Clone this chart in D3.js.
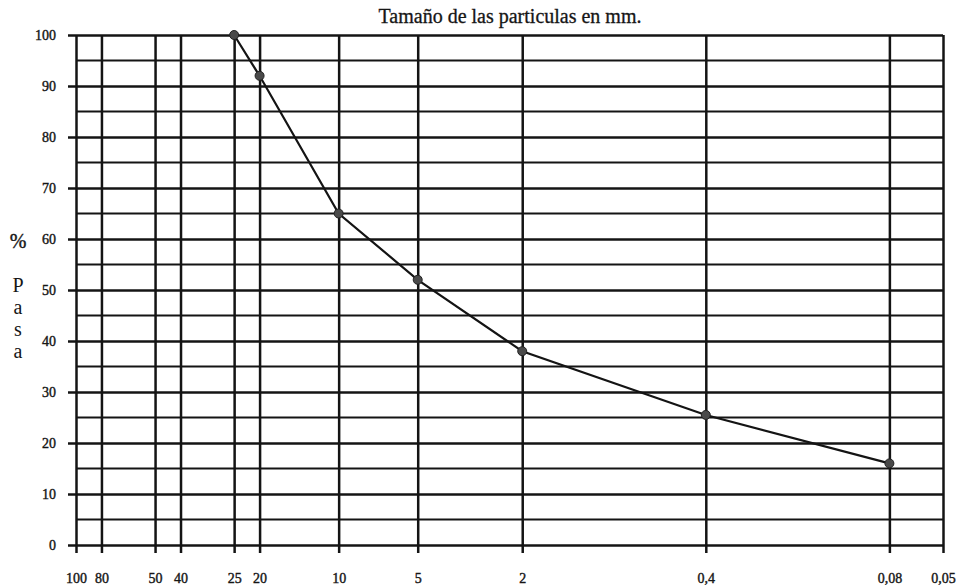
<!DOCTYPE html>
<html>
<head>
<meta charset="utf-8">
<script src="https://cdn.jsdelivr.net/npm/d3@7"></script>
<style>
  body { margin: 0; background: #fff; }
  text { font-family: "Liberation Serif", "Times New Roman", serif; fill: #161616; }
  .grid line { stroke: #141414; }
</style>
</head>
<body>
<div id="chart"></div>
<script>
// sieve sizes (mm) and % passing
let sizes = [25, 20, 10, 5, 2, 0.4, 0.08];
let pasa = [100, 92, 65, 52, 38, 25.5, 16];

// x ticks (sieve openings) and their labels
let sieveTicks = [100, 80, 50, 40, 25, 20, 10, 5, 2, 0.4, 0.08, 0.05];
let sieveLabels = ["100", "80", "50", "40", "25", "20", "10", "5", "2", "0,4", "0,08", "0,05"];

// y ticks
let yTicks = [0, 10, 20, 30, 40, 50, 60, 70, 80, 90, 100];
let yMinor = [5, 15, 25, 35, 45, 55, 65, 75, 85, 95];

const W = 963, H = 587;
const plot = {left: 76, right: 943, top: 35, bottom: 545};

let svg = d3.select("#chart")
            .append("svg")
                .attr("width", W)
                .attr("height", H);

let x = d3.scaleLog()
    .domain([100, 0.05])
    .range([plot.left, plot.right]);

let y = d3.scaleLinear()
    .domain([0, 100])
    .range([plot.bottom, plot.top]);

// minor horizontal lines
svg.append("g")
    .attr("class", "grid")
    .selectAll("line")
    .data(yMinor)
    .enter()
    .append("line")
        .attr("x1", plot.left)
        .attr("x2", plot.right)
        .attr("y1", d => y(d))
        .attr("y2", d => y(d))
        .style("stroke-width", 1.8);

// Y axis with major lines
let yAxis = svg.append("g")
    .attr("class", "grid")
    .attr("transform", "translate(" + (plot.left - 8) + ",0)")
    .call(d3.axisLeft(y)
            .tickValues(yTicks)
            .tickSizeInner(-(plot.right - plot.left + 8))
            .tickSizeOuter(0)
            .tickPadding(12));
yAxis.select(".domain").remove();
yAxis.selectAll("line").style("stroke-width", 2.5);
yAxis.selectAll("text")
    .style("font-size", "14px")
    .style("font-family", "Liberation Serif")
    .style("fill", "#161616")
    .style("stroke", "#161616")
    .style("stroke-width", 0.4);

// X axis with vertical lines (extend below the 0 line)
let xAxis = svg.append("g")
    .attr("class", "grid")
    .attr("transform", "translate(0," + (plot.bottom + 8) + ")")
    .call(d3.axisBottom(x)
            .tickValues(sieveTicks)
            .tickFormat((d, i) => sieveLabels[i])
            .tickSizeInner(-(plot.bottom + 8 - plot.top))
            .tickSizeOuter(0)
            .tickPadding(20));
xAxis.select(".domain").remove();
xAxis.selectAll("line").style("stroke-width", 2.5);
xAxis.selectAll("text")
    .style("font-size", "14px")
    .style("font-family", "Liberation Serif")
    .style("fill", "#161616")
    .style("stroke", "#161616")
    .style("stroke-width", 0.4);

// grading curve
let points = sizes.map((s, i) => ({ size: s, p: pasa[i] }));

svg.append("path")
    .datum(points)
    .attr("fill", "none")
    .attr("stroke", "#141414")
    .attr("stroke-width", 2.2)
    .attr("d", d3.line()
        .x(d => x(d.size))
        .y(d => y(d.p)));

svg.selectAll(".pt")
    .data(points)
    .enter()
    .append("circle")
        .attr("class", "pt")
        .attr("cx", d => x(d.size))
        .attr("cy", d => y(d.p))
        .attr("r", 4.5)
        .style("fill", "#4a4a4a")
        .style("stroke", "#222")
        .style("stroke-width", 1);

// title
svg.append("text")
    .attr("x", 510)
    .attr("y", 23)
    .attr("text-anchor", "middle")
    .style("font-size", "20px")
    .style("stroke", "#161616")
    .style("stroke-width", 0.3)
    .text("Tamaño de las particulas en mm.");

// Y label: "%" then "pasa" stacked
svg.append("text")
    .attr("x", 18)
    .attr("y", 248)
    .attr("text-anchor", "middle")
    .style("font-size", "20px")
    .style("stroke", "#161616")
    .style("stroke-width", 0.4)
    .text("%");

svg.append("g")
    .selectAll("text")
    .data(["P", "a", "s", "a"])
    .enter()
    .append("text")
        .attr("x", 18)
        .attr("y", (d, i) => 292 + i * 22)
        .attr("text-anchor", "middle")
        .style("font-size", "20px")
        .text(d => d);
</script>
</body>
</html>
